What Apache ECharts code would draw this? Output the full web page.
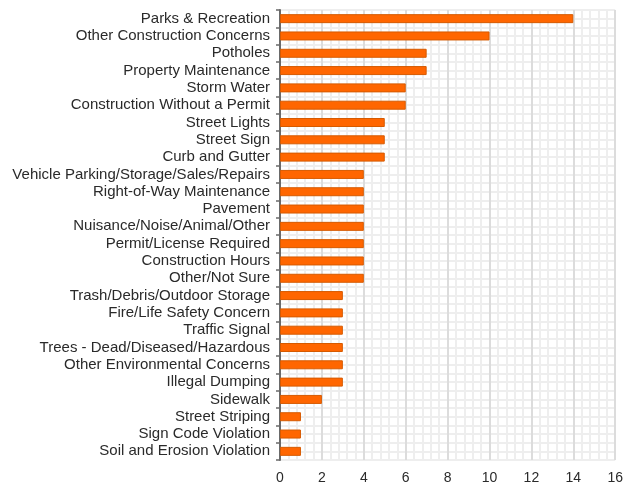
<!DOCTYPE html>
<html>
<head>
<meta charset="utf-8">
<script src="https://cdn.jsdelivr.net/npm/echarts@6/dist/echarts.min.js"></script>
<style>html,body{margin:0;padding:0;background:#fff;}#c{width:626px;height:493px;}</style>
</head>
<body>
<div id="c"></div>
<script>
var categories = ["Parks & Recreation","Other Construction Concerns","Potholes","Property Maintenance","Storm Water","Construction Without a Permit","Street Lights","Street Sign","Curb and Gutter","Vehicle Parking/Storage/Sales/Repairs","Right-of-Way Maintenance","Pavement","Nuisance/Noise/Animal/Other","Permit/License Required","Construction Hours","Other/Not Sure","Trash/Debris/Outdoor Storage","Fire/Life Safety Concern","Traffic Signal","Trees - Dead/Diseased/Hazardous","Other Environmental Concerns","Illegal Dumping","Sidewalk","Street Striping","Sign Code Violation","Soil and Erosion Violation"];
var values = [14,10,7,7,6,6,5,5,5,4,4,4,4,4,4,4,3,3,3,3,3,3,2,1,1,1];
var xTicks = [0,2,4,6,8,10,12,14,16];

var chart = echarts.init(document.getElementById('c'), null, {renderer:'canvas'});
chart.setOption({
  animation:false,
  backgroundColor:'#fff',
  grid:{left:280, right:10, top:10, bottom:33, containLabel:false},
  xAxis:{
    type:'value', min:xTicks[0], max:xTicks[xTicks.length-1], interval:2,
    axisLine:{show:false}, axisTick:{show:false},
    axisLabel:{color:'#2a2a2a', fontFamily:'Liberation Sans', fontSize:14, margin:11,
      formatter:function(v){return xTicks.indexOf(v)>=0?String(v):'';}},
    splitLine:{show:true, lineStyle:{color:'#dcdcdc', width:2}},
    minorTick:{show:false, splitNumber:5},
    minorSplitLine:{show:true, lineStyle:{color:'#eeeeee', width:2}}
  },
  yAxis:[{
    type:'category', data:categories, inverse:true,
    axisLine:{show:true, lineStyle:{color:'#6a6a6a', width:2}},
    axisTick:{show:true, length:4, interval:0, lineStyle:{color:'#6a6a6a', width:1.5}},
    axisLabel:{interval:0, color:'#2a2a2a', fontFamily:'Liberation Sans', fontSize:15, margin:10, hideOverlap:false},
    splitLine:{show:false}
  },{
    type:'value', min:0, max:categories.length*2, interval:1, position:'right',
    axisLine:{show:false}, axisTick:{show:false}, axisLabel:{show:false},
    splitLine:{show:true, lineStyle:{color:'#eeeeee', width:2}}
  }],
  series:[{
    type:'bar', data:values, yAxisIndex:0, barWidth:9, z:3,
    itemStyle:{color:'#ff6600', borderColor:'#d65a00', borderWidth:1}
  }]
});
</script>
</body>
</html>
